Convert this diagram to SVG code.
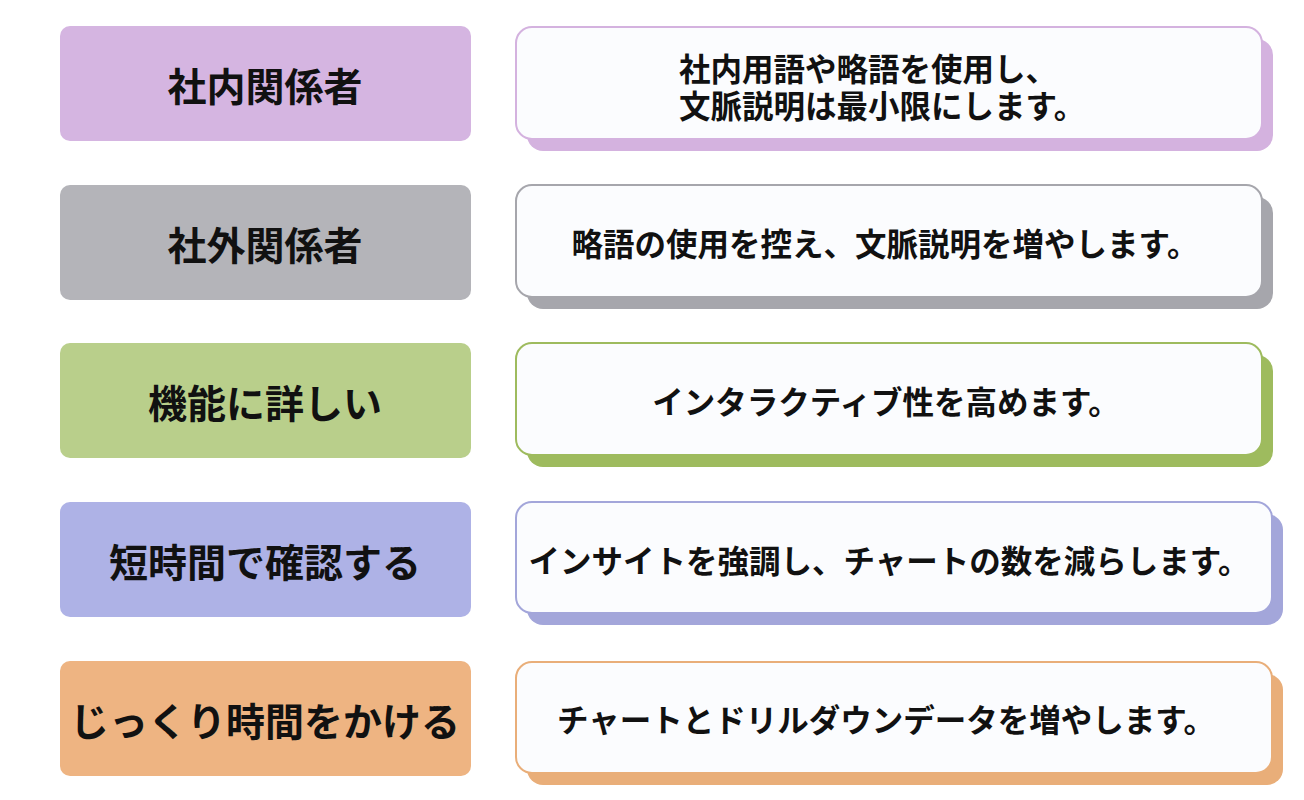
<svg xmlns="http://www.w3.org/2000/svg" width="1304" height="800" viewBox="0 0 1304 800">
  <style>
    .lbl { font-family: "Noto Sans CJK JP", "Noto Sans", sans-serif; font-weight: 700; fill: #111111; text-anchor: middle; dominant-baseline: central; }
    .left { font-size: 39px; }
    .right { font-size: 31.5px; }
    .start { text-anchor: start; }
    .card { fill: #FBFCFE; stroke-width: 2; }
  </style>
  <rect x="0" y="0" width="1304" height="800" fill="#FFFFFF"/>

  <g id="row1">
    <g id="node-left-1">
      <rect x="60" y="26" width="411" height="115" rx="10" fill="#D5B5E1"/>
      <text class="lbl left" x="265" y="84">社内関係者</text>
    </g>
    <g id="node-right-1">
      <rect x="527" y="39" width="746" height="112" rx="16" fill="#D4B2DF"/>
      <rect class="card" x="516" y="27" width="746" height="112" rx="16" stroke="#D4B2DF"/>
      <text class="lbl right start" x="679" y="67"><tspan x="679" y="67">社内用語や略語を使用し、</tspan><tspan x="679" y="104">文脈説明は最小限にします。</tspan></text>
    </g>
  </g>

  <g id="row2">
    <g id="node-left-2">
      <rect x="60" y="185" width="411" height="115" rx="10" fill="#B4B4B9"/>
      <text class="lbl left" x="265" y="243">社外関係者</text>
    </g>
    <g id="node-right-2">
      <rect x="527" y="197" width="746" height="112" rx="16" fill="#A6A6AC"/>
      <rect class="card" x="516" y="185" width="746" height="112" rx="16" stroke="#A6A6AC"/>
      <text class="lbl right" x="885" y="242">略語の使用を控え、文脈説明を増やします。</text>
    </g>
  </g>

  <g id="row3">
    <g id="node-left-3">
      <rect x="60" y="343" width="411" height="115" rx="10" fill="#B9CF8B"/>
      <text class="lbl left" x="265" y="401">機能に詳しい</text>
    </g>
    <g id="node-right-3">
      <rect x="527" y="355" width="746" height="112" rx="16" fill="#9EBB5E"/>
      <rect class="card" x="516" y="343" width="746" height="112" rx="16" stroke="#9EBB5E"/>
      <text class="lbl right" x="886" y="400">インタラクティブ性を高めます。</text>
    </g>
  </g>

  <g id="row4">
    <g id="node-left-4">
      <rect x="60" y="502" width="411" height="115" rx="10" fill="#AEB2E6"/>
      <text class="lbl left" x="265" y="560">短時間で確認する</text>
    </g>
    <g id="node-right-4">
      <rect x="527" y="514" width="756" height="111" rx="16" fill="#A3A6DA"/>
      <rect class="card" x="516" y="502" width="756" height="111" rx="16" stroke="#A3A6DA"/>
      <text class="lbl right" x="889" y="559">インサイトを強調し、チャートの数を減らします。</text>
    </g>
  </g>

  <g id="row5">
    <g id="node-left-5">
      <rect x="60" y="661" width="411" height="115" rx="10" fill="#EEB482"/>
      <text class="lbl left" x="265" y="719">じっくり時間をかける</text>
    </g>
    <g id="node-right-5">
      <rect x="527" y="674" width="756" height="111" rx="16" fill="#E9AE79"/>
      <rect class="card" x="516" y="662" width="756" height="111" rx="16" stroke="#E9AE79"/>
      <text class="lbl right" x="886" y="718">チャートとドリルダウンデータを増やします。</text>
    </g>
  </g>

  <g id="connectors"></g>
</svg>
